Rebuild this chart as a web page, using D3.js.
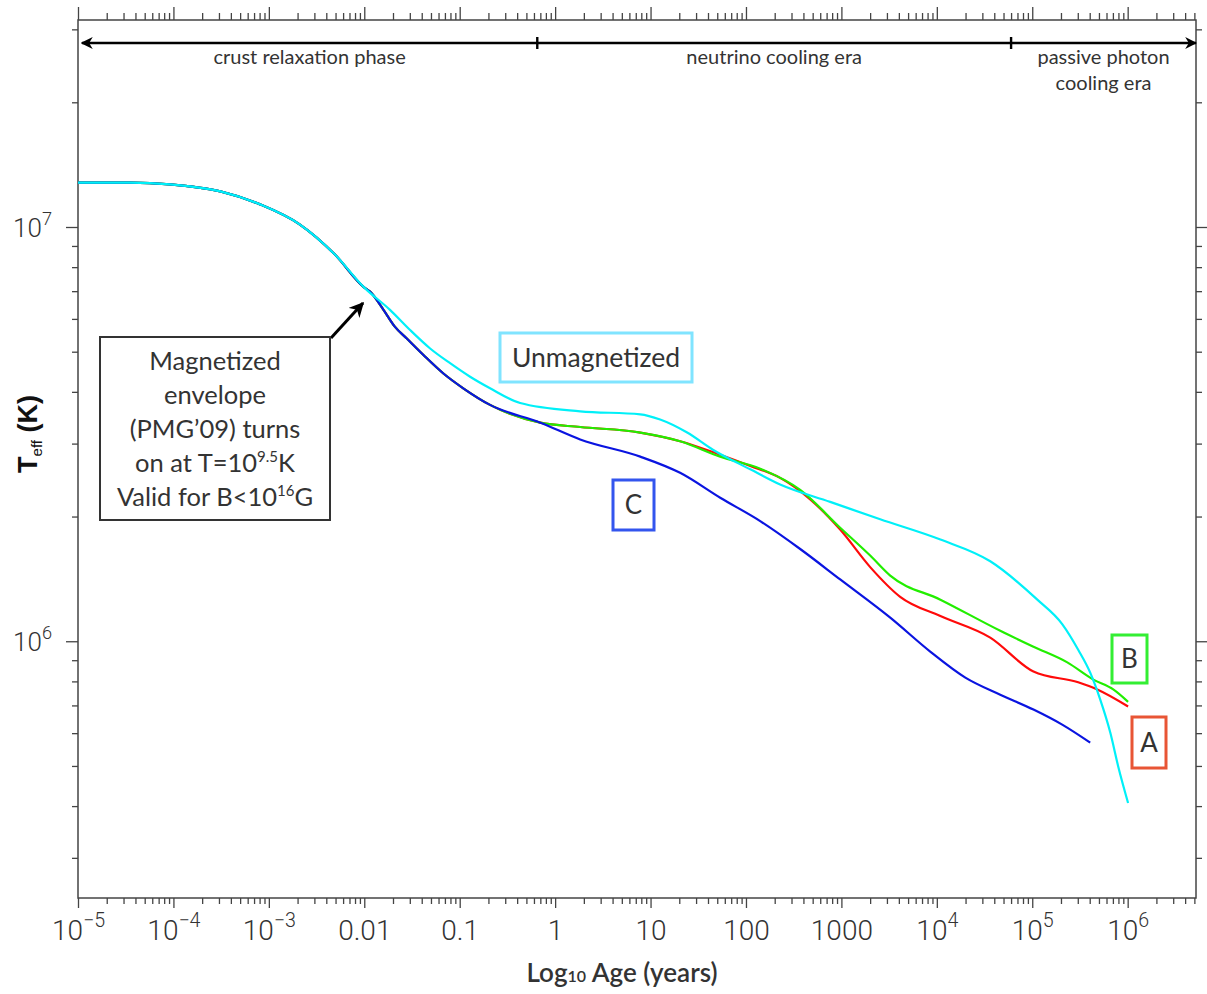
<!DOCTYPE html>
<meta charset="utf-8">
<title>Teff vs age</title>
<style>
  body { margin: 0; background: #fff; }
  .tick line { stroke: #444; stroke-width: 1.3; }
  .ticklab { font-family: Roboto, "Liberation Sans", sans-serif; font-weight: 300; fill: #333; }
  .gill { font-family: Lato, "Open Sans", sans-serif; fill: #333; }
</style>
<body>
<svg width="1207" height="994" id="chart"></svg>
<script src="https://d3js.org/d3.v7.min.js"></script>
<script>
// ---- data (age in years, Teff in K) ----
var commonAge  = [1e-5, 1.7e-5, 3.5e-5, 9.2e-5, 3.1e-4, 8.1e-4, 2.1e-3, 4.9e-3, 9.95e-3];
var commonTeff = [1.28e7, 1.28e7, 1.28e7, 1.268e7, 1.219e7, 1.134e7, 1.015e7, 8.59e6, 7.15e6];

var unmagAge  = [0.0186, 0.0302, 0.049, 0.0793, 0.1285, 0.208, 0.43, 1.83, 7.8, 12.6, 24.2, 45, 111, 228, 763, 2550, 1.09e4, 3.63e4, 1.13e5, 2.06e5, 3.03e5, 4.05e5, 5.16e5, 6.57e5, 7.97e5, 1.01e6];
var unmagTeff = [6.31e6, 5.64e6, 5.09e6, 4.69e6, 4.35e6, 4.08e6, 3.76e6, 3.59e6, 3.53e6, 3.43e6, 3.19e6, 2.90e6, 2.60e6, 2.39e6, 2.17e6, 1.97e6, 1.76e6, 1.56e6, 1.26e6, 1.10e6, 9.54e5, 8.40e5, 7.23e5, 6.02e5, 4.98e5, 4.07e5];

// shared by A, B, C between 0.01 and ~0.7 yr
var magAge  = [0.0115, 0.0159, 0.021, 0.0279, 0.0417, 0.0675, 0.109, 0.208, 0.70];
var magTeff = [6.98e6, 6.31e6, 5.74e6, 5.38e6, 4.91e6, 4.43e6, 4.08e6, 3.72e6, 3.37e6];

var aAge  = [1.83, 7.8, 20.4, 53.7, 111, 228, 471, 971, 2003, 4130, 1.09e4, 3.63e4, 1.03e5, 3.03e5, 4.8e5, 1.01e6];
var aTeff = [3.29e6, 3.19e6, 3.04e6, 2.82e6, 2.65e6, 2.48e6, 2.20e6, 1.86e6, 1.51e6, 1.28e6, 1.15e6, 1.02e6, 8.45e5, 7.96e5, 7.65e5, 6.96e5];

var bAge  = [1.83, 7.8, 20.4, 53.7, 141, 370, 971, 2003, 3250, 1.09e4, 4.62e4, 1.03e5, 2.33e5, 4.37e5, 7.06e5, 1.01e6];
var bTeff = [3.29e6, 3.19e6, 3.04e6, 2.79e6, 2.61e6, 2.32e6, 1.88e6, 1.61e6, 1.44e6, 1.26e6, 1.06e6, 9.70e5, 8.89e5, 8.08e5, 7.65e5, 7.14e5];

var cAge  = [1.83, 7.8, 20.4, 53.7, 141, 370, 971, 3250, 8530, 1.99e4, 4.62e4, 1.03e5, 2.06e5, 4.05e5];
var cTeff = [3.07e6, 2.79e6, 2.55e6, 2.22e6, 1.95e6, 1.67e6, 1.41e6, 1.14e6, 9.44e5, 8.17e5, 7.43e5, 6.84e5, 6.29e5, 5.69e5];

var xMajor = [1e-5, 1e-4, 1e-3, 0.01, 0.1, 1, 10, 100, 1000, 1e4, 1e5, 1e6];
var xLabels = [["10","\u22125"],["10","\u22124"],["10","\u22123"],["0.01"],["0.1"],["1"],["10"],["100"],["1000"],["10","4"],["10","5"],["10","6"]];
var yMajor = [1e6, 1e7];
var yLabels = [["10","6"],["10","7"]];

var eraEdges = [1.1e-5, 0.65, 6e4, 5.2e6];
var eraNames = [["crust relaxation phase"], ["neutrino cooling era"], ["passive photon", "cooling era"]];

// ---- layout ----
var svg = d3.select("#chart");
var L = 78, R = 1196, T = 20, B = 898;

var x = d3.scaleLog().domain([1e-5, 5.2e6]).range([L, R]);
var y = d3.scaleLog().domain([2.4e5, 3.16e7]).range([B, T]);

function minors(lo, hi) {
  var out = [];
  for (var e = lo; e < hi; e++)
    for (var k = 2; k <= 9; k++) out.push(k * Math.pow(10, e));
  return out;
}
var xMinor = minors(-5, 7).filter(function(v){ return v < 5.2e6; });
var yMinor = minors(5, 8).filter(function(v){ return v > 2.4e5 && v < 3.16e7; });

// frame
svg.append("rect").attr("x", L).attr("y", T).attr("width", R - L).attr("height", B - T)
  .attr("fill", "none").attr("stroke", "#444").attr("stroke-width", 1.5);

function addAxis(axis, tr) {
  var g = svg.append("g").attr("transform", tr).call(axis);
  g.select(".domain").remove();
  return g;
}
// minor ticks
addAxis(d3.axisBottom(x).tickValues(xMinor).tickSize(6).tickFormat(""), "translate(0," + B + ")");
addAxis(d3.axisTop(x).tickValues(xMinor).tickSize(7).tickFormat(""), "translate(0," + T + ")");
addAxis(d3.axisLeft(y).tickValues(yMinor).tickSize(6).tickFormat(""), "translate(" + L + ",0)");
addAxis(d3.axisRight(y).tickValues(yMinor).tickSize(6).tickFormat(""), "translate(" + R + ",0)");
// major ticks
var gx = addAxis(d3.axisBottom(x).tickValues(xMajor).tickSize(10).tickPadding(12), "translate(0," + B + ")");
addAxis(d3.axisTop(x).tickValues(xMajor).tickSize(13).tickFormat(""), "translate(0," + T + ")");
var gy = addAxis(d3.axisLeft(y).tickValues(yMajor).tickSize(12).tickPadding(14), "translate(" + L + ",0)");
addAxis(d3.axisRight(y).tickValues(yMajor).tickSize(11).tickFormat(""), "translate(" + R + ",0)");

function powLabel(sel, labels, size) {
  sel.selectAll(".tick text").each(function(d, i) {
    var t = d3.select(this).text(null).attr("class", "ticklab")
      .attr("font-size", size).attr("fill", "#333");
    var lab = labels[i];
    t.append("tspan").text(lab[0]);
    if (lab.length > 1)
      t.append("tspan").attr("font-size", size * 0.7).attr("dy", -size * 0.45).text(lab[1]);
  });
}
powLabel(gx, xLabels, 28);
powLabel(gy, yLabels, 26);
gy.selectAll(".tick text").attr("dy", "0.35em");

// axis titles
var xt = svg.append("text").attr("class", "gill").attr("x", 622).attr("y", 982)
  .attr("text-anchor", "middle").attr("font-size", 26).attr("font-weight", 600).attr("fill", "#111");
xt.append("tspan").text("Log");
xt.append("tspan").attr("font-size", 16).text("10");
xt.append("tspan").text(" Age (years)");

var yt = svg.append("text").attr("transform", "translate(37,434) rotate(-90)")
  .attr("text-anchor", "middle").attr("font-family", "Liberation Sans, Arial, sans-serif")
  .attr("font-size", 27).attr("font-weight", 700).attr("fill", "#111");
yt.append("tspan").text("T");
yt.append("tspan").attr("font-size", 15).attr("font-weight", 400).attr("dy", 5).text("eff");
yt.append("tspan").attr("dy", -5).text(" (K)");

// ---- curves ----
var line = d3.line().x(function(d){ return x(d[0]); }).y(function(d){ return y(d[1]); })
  .curve(d3.curveMonotoneX);
function pts(ages, teffs) { return ages.map(function(a, i){ return [a, teffs[i]]; }); }
var base = pts(commonAge, commonTeff);
var mag = base.concat(pts(magAge, magTeff));
var series = [
  { d: mag.concat(pts(aAge, aTeff)), c: "#ff0a0a" },
  { d: mag.concat(pts(bAge, bTeff)), c: "#22ee00" },
  { d: mag.concat(pts(cAge, cTeff)), c: "#0a14e0" },
  { d: base.concat(pts(unmagAge, unmagTeff)), c: "#00f0f8" }
];
svg.append("g").selectAll("path").data(series).join("path")
  .attr("d", function(s){ return line(s.d); })
  .attr("fill", "none").attr("stroke", function(s){ return s.c; }).attr("stroke-width", 2.2);

// ---- eras ----
var defs = svg.append("defs");
defs.append("marker").attr("id", "ah").attr("viewBox", "0 0 10 10").attr("refX", 9).attr("refY", 5)
  .attr("markerWidth", 5).attr("markerHeight", 5).attr("orient", "auto-start-reverse")
  .append("path").attr("d", "M0,0 L10,5 L0,10 L3,5 Z").attr("fill", "#000");

var eraY = 43;
svg.append("line").attr("x1", x(eraEdges[0])).attr("x2", R).attr("y1", eraY).attr("y2", eraY)
  .attr("stroke", "#000").attr("stroke-width", 2.4)
  .attr("marker-start", "url(#ah)").attr("marker-end", "url(#ah)");
svg.selectAll(".sep").data(eraEdges.slice(1, 3)).join("line")
  .attr("x1", function(d){ return x(d); }).attr("x2", function(d){ return x(d); })
  .attr("y1", eraY - 6).attr("y2", eraY + 6).attr("stroke", "#000").attr("stroke-width", 2.4);
eraNames.forEach(function(lines, i) {
  var cx = (x(eraEdges[i]) + Math.min(x(eraEdges[i + 1]), R)) / 2;
  lines.forEach(function(s, j) {
    svg.append("text").attr("class", "gill").attr("x", cx).attr("y", 64 + j * 26)
      .attr("text-anchor", "middle").attr("font-size", 20).text(s);
  });
});

// ---- labels ----
function boxLabel(txt, bx, by, bw, bh, col, fs) {
  svg.append("rect").attr("x", bx).attr("y", by).attr("width", bw).attr("height", bh)
    .attr("fill", "#fff").attr("stroke", col).attr("stroke-width", 3);
  svg.append("text").attr("class", "gill").attr("x", bx + bw / 2).attr("y", by + bh / 2 + fs * 0.36)
    .attr("text-anchor", "middle").attr("font-size", fs).text(txt);
}
boxLabel("Unmagnetized", 500, 333, 192, 49, "#80e4ff", 26.5);
boxLabel("C", 613, 480, 41, 50, "#3355ee", 26);
boxLabel("B", 1112, 635, 35, 48, "#33ee33", 26);
boxLabel("A", 1132, 717, 34, 51, "#e85535", 26);

// annotation box
svg.append("line").attr("x1", 331).attr("y1", 338).attr("x2", 363).attr("y2", 303)
  .attr("stroke", "#000").attr("stroke-width", 3).attr("marker-end", "url(#ah)");
svg.append("rect").attr("x", 100).attr("y", 337).attr("width", 230).attr("height", 183)
  .attr("fill", "#fff").attr("stroke", "#333").attr("stroke-width", 2);
var noteLines = [["Magnetized"], ["envelope"], ["(PMG\u201909) turns"], ["on at T=10", "9.5", "K"], ["Valid for B<10", "16", "G"]];
noteLines.forEach(function(parts, i) {
  var t = svg.append("text").attr("class", "gill").attr("x", 215).attr("y", 370 + i * 34)
    .attr("text-anchor", "middle").attr("font-size", 25.5);
  t.append("tspan").text(parts[0]);
  if (parts.length > 1) {
    t.append("tspan").attr("font-size", 15).attr("dy", -10).text(parts[1]);
    t.append("tspan").attr("dy", 10).text(parts[2]);
  }
});
</script>
</body>
